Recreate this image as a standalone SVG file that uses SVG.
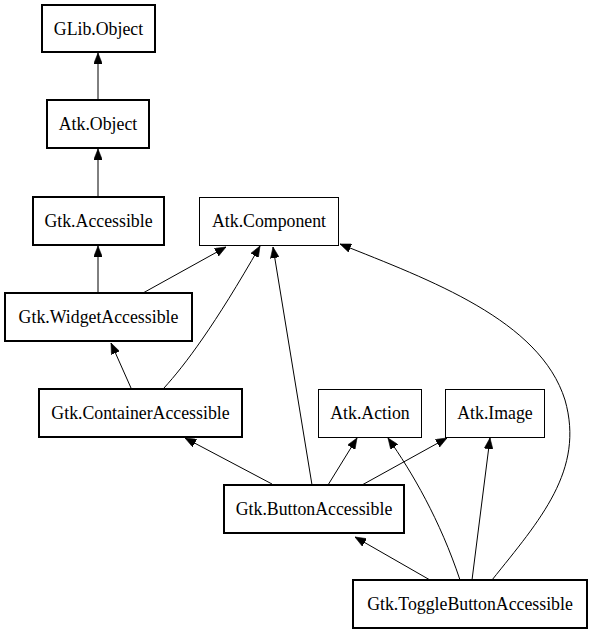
<svg xmlns="http://www.w3.org/2000/svg" width="591" height="635" viewBox="0 0 591 635">
<style>
.n rect{fill:#fff;stroke:#000}
.b rect{stroke-width:2}
.t rect{stroke-width:1}
.n text{font-family:'Liberation Serif','DejaVu Serif',serif;font-size:17.8px;text-anchor:middle;fill:#000}
.e path{fill:none;stroke:#000;stroke-width:1;marker-end:url(#ah)}
</style>
<defs>
<marker id="ah" viewBox="0 0 10 8" refX="10" refY="4" markerWidth="11" markerHeight="8.8" markerUnits="userSpaceOnUse" orient="auto">
<path d="M0,0 L10,4 L0,8 z" fill="#000" stroke="#000" stroke-width="0.5"/>
</marker>
</defs>
<rect width="591" height="635" fill="#fff"/>
<g id="edges" class="e">
<path d="M98,100 L98,53"/>
<path d="M98,197 L98,149"/>
<path d="M98,293 L98,246"/>
<path d="M143,293 L226,247"/>
<path d="M131,388 L111,343"/>
<path d="M164,388 C185,365 215,325 260,246"/>
<path d="M312,485 L273,247"/>
<path d="M272,484 L185,438"/>
<path d="M328,485 L357,438"/>
<path d="M362,485 L447,438"/>
<path d="M430,580 L355,537"/>
<path d="M460,580 C440,520 412,472 388,438"/>
<path d="M472,580 L490,438"/>
<path d="M492,580 C540,520 585,470 565,400 C540,320 430,280 340,244"/>
</g>
<g id="glib_object" class="n b"><rect x="42" y="5" width="113" height="47"/><text x="98.5" y="34.5">GLib.Object</text></g>
<g id="atk_object" class="n b"><rect x="47" y="100" width="102" height="48"/><text x="98" y="130">Atk.Object</text></g>
<g id="gtk_accessible" class="n b"><rect x="33" y="197" width="131" height="48"/><text x="98.5" y="227">Gtk.Accessible</text></g>
<g id="atk_component" class="n t"><rect x="199.5" y="197.5" width="139" height="48"/><text x="269" y="227">Atk.Component</text></g>
<g id="gtk_widgetaccessible" class="n b"><rect x="5" y="293" width="187" height="48"/><text x="98.5" y="323">Gtk.WidgetAccessible</text></g>
<g id="gtk_containeraccessible" class="n b"><rect x="39" y="389" width="203" height="48"/><text x="140.5" y="419">Gtk.ContainerAccessible</text></g>
<g id="atk_action" class="n t"><rect x="318.5" y="389.5" width="103" height="48"/><text x="370" y="419">Atk.Action</text></g>
<g id="atk_image" class="n t"><rect x="445.5" y="389.5" width="99" height="48"/><text x="495" y="419">Atk.Image</text></g>
<g id="gtk_buttonaccessible" class="n b"><rect x="224" y="485" width="180" height="48"/><text x="314" y="515">Gtk.ButtonAccessible</text></g>
<g id="gtk_togglebuttonaccessible" class="n b"><rect x="353" y="580" width="234" height="48"/><text x="470" y="610">Gtk.ToggleButtonAccessible</text></g>
</svg>
